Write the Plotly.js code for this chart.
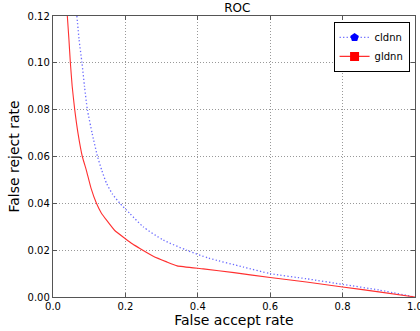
<!DOCTYPE html>
<html><head><meta charset="utf-8">
<script src="https://cdn.plot.ly/plotly-3.0.1.min.js"></script>
<style>html,body{margin:0;padding:0;background:#fff}#c{width:420px;height:331px}</style>
</head><body><div id="c"></div>
<script>
const cldnnX = [0.066, 0.072, 0.080, 0.087, 0.095, 0.108, 0.123, 0.135, 0.148, 0.165, 0.185, 0.212, 0.249, 0.305, 0.369, 0.43, 0.526, 0.60, 0.70, 0.80, 0.90, 1.0];
const cldnnY = [0.120, 0.110, 0.100, 0.090, 0.080, 0.070, 0.060, 0.054, 0.0485, 0.0438, 0.0400, 0.0357, 0.0300, 0.0243, 0.0200, 0.0166, 0.0128, 0.0100, 0.0078, 0.0054, 0.0030, 0.0];
const gldnnX = [0.0396, 0.044, 0.048, 0.053, 0.060, 0.069, 0.081, 0.092, 0.105, 0.120, 0.133, 0.148, 0.170, 0.199, 0.220, 0.240, 0.277, 0.314, 0.343, 0.415, 0.50, 0.60, 0.70, 0.80, 0.90, 1.0];
const gldnnY = [0.120, 0.110, 0.100, 0.090, 0.080, 0.070, 0.060, 0.0542, 0.0465, 0.0400, 0.0360, 0.0328, 0.0285, 0.0250, 0.0226, 0.0207, 0.0174, 0.0150, 0.0133, 0.0120, 0.0104, 0.0083, 0.0064, 0.0043, 0.0022, 0.0];
const names = ['cldnn', 'gldnn'];

const blueLine = {color: 'rgba(70,70,255,0.8)', width: 1.3, dash: '1.3px,2.2px', shape: 'spline', smoothing: 0.6};
const redLine = {color: '#ff3030', width: 1.1, shape: 'spline', smoothing: 0.4};
const traces = [
  {x: cldnnX, y: cldnnY, mode: 'lines', line: blueLine, showlegend: false},
  {x: gldnnX, y: gldnnY, mode: 'lines', line: redLine, showlegend: false},
  {x: [null], y: [null], name: names[0], mode: 'lines+markers', line: {color: 'rgba(70,70,255,0.8)', width: 1.3, dash: '1.3px,2.2px'}, marker: {symbol: 'pentagon', size: 9, color: '#0000ff', line: {width: 0}}},
  {x: [null], y: [null], name: names[1], mode: 'lines+markers', line: {color: '#ff3030', width: 1.1}, marker: {symbol: 'square', size: 9, color: '#ff0000', line: {width: 0}}}
];
const layout = {
  width: 420, height: 331,
  margin: {l: 53, r: 5, t: 16, b: 34},
  paper_bgcolor: '#fff', plot_bgcolor: '#fff',
  font: {family: 'DejaVu Sans', size: 10, color: '#000'},
  title: {text: 'ROC', font: {family: 'DejaVu Sans', size: 12, color: '#000'}, x: 0.565, xanchor: 'center', y: 0.975, yanchor: 'middle'},
  xaxis: {range: [0, 1.0001], tickvals: [0, 0.2, 0.4, 0.6, 0.8, 1.0], ticktext: ['0.0','0.2','0.4','0.6','0.8','1.0'],
    ticklabeloverflow: 'allow',
    showline: true, linecolor: '#555', linewidth: 1.2, mirror: 'ticks', ticks: 'inside', ticklen: 4, tickcolor: '#555',
    showgrid: true, gridcolor: '#999', griddash: '1px,2px', gridwidth: 1, zeroline: false,
    tickfont: {family: 'DejaVu Sans', size: 10, color: '#000'},
    title: {text: 'False accept rate', font: {family: 'DejaVu Sans', size: 14, color: '#000'}, standoff: 3}},
  yaxis: {range: [0, 0.12], tickvals: [0, 0.02, 0.04, 0.06, 0.08, 0.10, 0.12], ticktext: ['0.00','0.02','0.04','0.06','0.08','0.10','0.12'],
    showline: true, linecolor: '#555', linewidth: 1.2, mirror: 'ticks', ticks: 'inside', ticklen: 4, tickcolor: '#555',
    showgrid: true, gridcolor: '#999', griddash: '1px,2px', gridwidth: 1, zeroline: false,
    tickfont: {family: 'DejaVu Sans', size: 10, color: '#000'},
    title: {text: 'False reject rate', font: {family: 'DejaVu Sans', size: 14, color: '#000'}, standoff: 4}},
  legend: {x: 0.985, y: 0.979, xanchor: 'right', yanchor: 'top', bgcolor: '#fff', bordercolor: '#000', borderwidth: 1,
    font: {family: 'DejaVu Sans', size: 10, color: '#000'}, itemwidth: 30, tracegroupgap: 0}
};
Plotly.newPlot('c', traces, layout, {displayModeBar: false, staticPlot: true});
</script></body></html>
